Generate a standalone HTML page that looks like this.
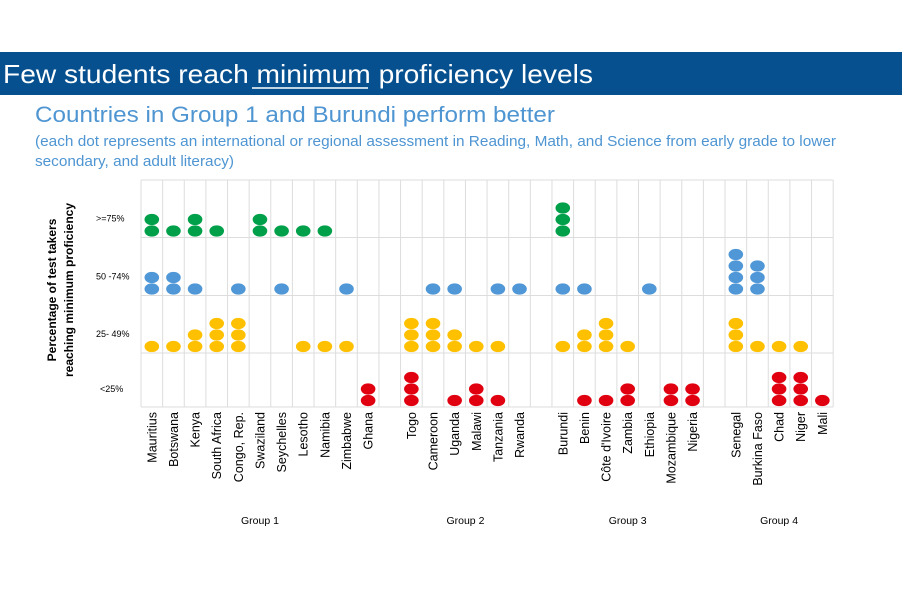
<!DOCTYPE html>
<html><head><meta charset="utf-8"><style>
html,body{margin:0;padding:0;background:#fff;}
svg{display:block;font-family:"Liberation Sans",sans-serif;}
</style></head><body>
<svg id="chart" width="907" height="594" viewBox="0 0 907 594">
<rect x="0" y="52" width="902" height="43" fill="#06508f"/>
<text x="3" y="83" font-size="26" fill="#fff" textLength="590" lengthAdjust="spacingAndGlyphs">Few students reach minimum proficiency levels</text>
<line x1="252" y1="88" x2="368" y2="88" stroke="#fff" stroke-width="1.5"/>
<text x="35" y="122" font-size="22" fill="#4e95d2" textLength="520" lengthAdjust="spacingAndGlyphs">Countries in Group 1 and Burundi perform better</text>
<text x="35" y="146" font-size="15" fill="#4e95d2" textLength="801" lengthAdjust="spacingAndGlyphs">(each dot represents an international or regional assessment in Reading, Math, and Science from early grade to lower</text>
<text x="35" y="166" font-size="15" fill="#4e95d2" textLength="199" lengthAdjust="spacingAndGlyphs">secondary, and adult literacy)</text>
<g id="plot"></g>
</svg>
<script>
const countries=["Mauritius","Botswana","Kenya","South Africa","Congo, Rep.","Swaziland","Seychelles","Lesotho","Namibia","Zimbabwe","Ghana","","Togo","Cameroon","Uganda","Malawi","Tanzania","Rwanda","","Burundi","Benin","Côte d'Ivoire","Zambia","Ethiopia","Mozambique","Nigeria","","Senegal","Burkina Faso","Chad","Niger","Mali"];
const green =[2,1,2,1,0,2,1,1,1,0,0,0,0,0,0,0,0,0,0,3,0,0,0,0,0,0,0,0,0,0,0,0];
const blue  =[2,2,1,0,1,0,1,0,0,1,0,0,0,1,1,0,1,1,0,1,1,0,0,1,0,0,0,4,3,0,0,0];
const yellow=[1,1,2,3,3,0,0,1,1,1,0,0,3,3,2,1,1,0,0,1,2,3,1,0,0,0,0,3,1,1,1,0];
const red   =[0,0,0,0,0,0,0,0,0,0,2,0,3,0,1,2,1,0,0,0,1,1,2,0,2,2,0,0,0,3,3,1];
const rowLabels=[">=75%","50 -74%","25- 49%","<25%"];
const groups=["Group 1","Group 2","Group 3","Group 4"];
const groupCenters=[5,14.5,22,29];
const NS="http://www.w3.org/2000/svg";
const g=document.getElementById("plot");
const x0=141,colW=21.63,rowTops=[180,237.5,295.5,353],rowBot=[237.5,295.5,353,407];
function xCol(i){return x0+colW*(i+0.5);}
function yDot(r,k){return rowBot[r]-6.5-k*11.5;}
function mk(tag,attrs){const e=document.createElementNS(NS,tag);for(const k in attrs)e.setAttribute(k,attrs[k]);g.appendChild(e);return e;}
for(let r=0;r<4;r++){
 const l=mk("line",{x1:x0,x2:x0+colW*32,y1:rowTops[r],y2:rowTops[r],stroke:"#ddd","stroke-width":1});
 
 
}
const bl=mk("line",{x1:x0,x2:x0+colW*32,y1:407,y2:407,stroke:"#ddd","stroke-width":1});


for(let i=0;i<=32;i++){
 const l=mk("line",{x1:x0+colW*i,x2:x0+colW*i,y1:180,y2:407,stroke:"#ddd","stroke-width":1});
 
 
}
const series=[[green,"#00a04a"],[blue,"#4f97d6"],[yellow,"#ffc000"],[red,"#e00010"]];
series.forEach(([arr,col],r)=>{
 arr.forEach((n,i)=>{
  for(let k=0;k<n;k++){
   const d=mk("ellipse",{cx:xCol(i),cy:yDot(r,k),rx:7.3,ry:5.6,fill:col});
   
   
  }
 });
});
rowLabels.forEach((t,r)=>{
 const e=mk("text",{x:(r==3?100:96),y:(r==3?392:rowBot[r]-16),"font-size":9,"text-anchor":"start",fill:"#000"});
 e.textContent=t;
 
 
});
countries.forEach((c,i)=>{
 if(!c)return;
 const e=mk("text",{transform:`translate(${xCol(i)+4.5},412) rotate(-90)`,"font-size":12.5,"text-anchor":"end",fill:"#000"});
 e.textContent=c;
 
 
});
groups.forEach((t,j)=>{
 const e=mk("text",{x:xCol(groupCenters[j]),y:524,"font-size":10.5,"text-anchor":"middle",fill:"#000"});
 e.textContent=t;
 
 
});
const t1=mk("text",{transform:"translate(56,290) rotate(-90)","font-size":12,"font-weight":"bold","text-anchor":"middle"});
t1.textContent="Percentage of test takers";


const t2=mk("text",{transform:"translate(73,290) rotate(-90)","font-size":12,"font-weight":"bold","text-anchor":"middle"});
t2.textContent="reaching minimum proficiency";


</script>
</body></html>
